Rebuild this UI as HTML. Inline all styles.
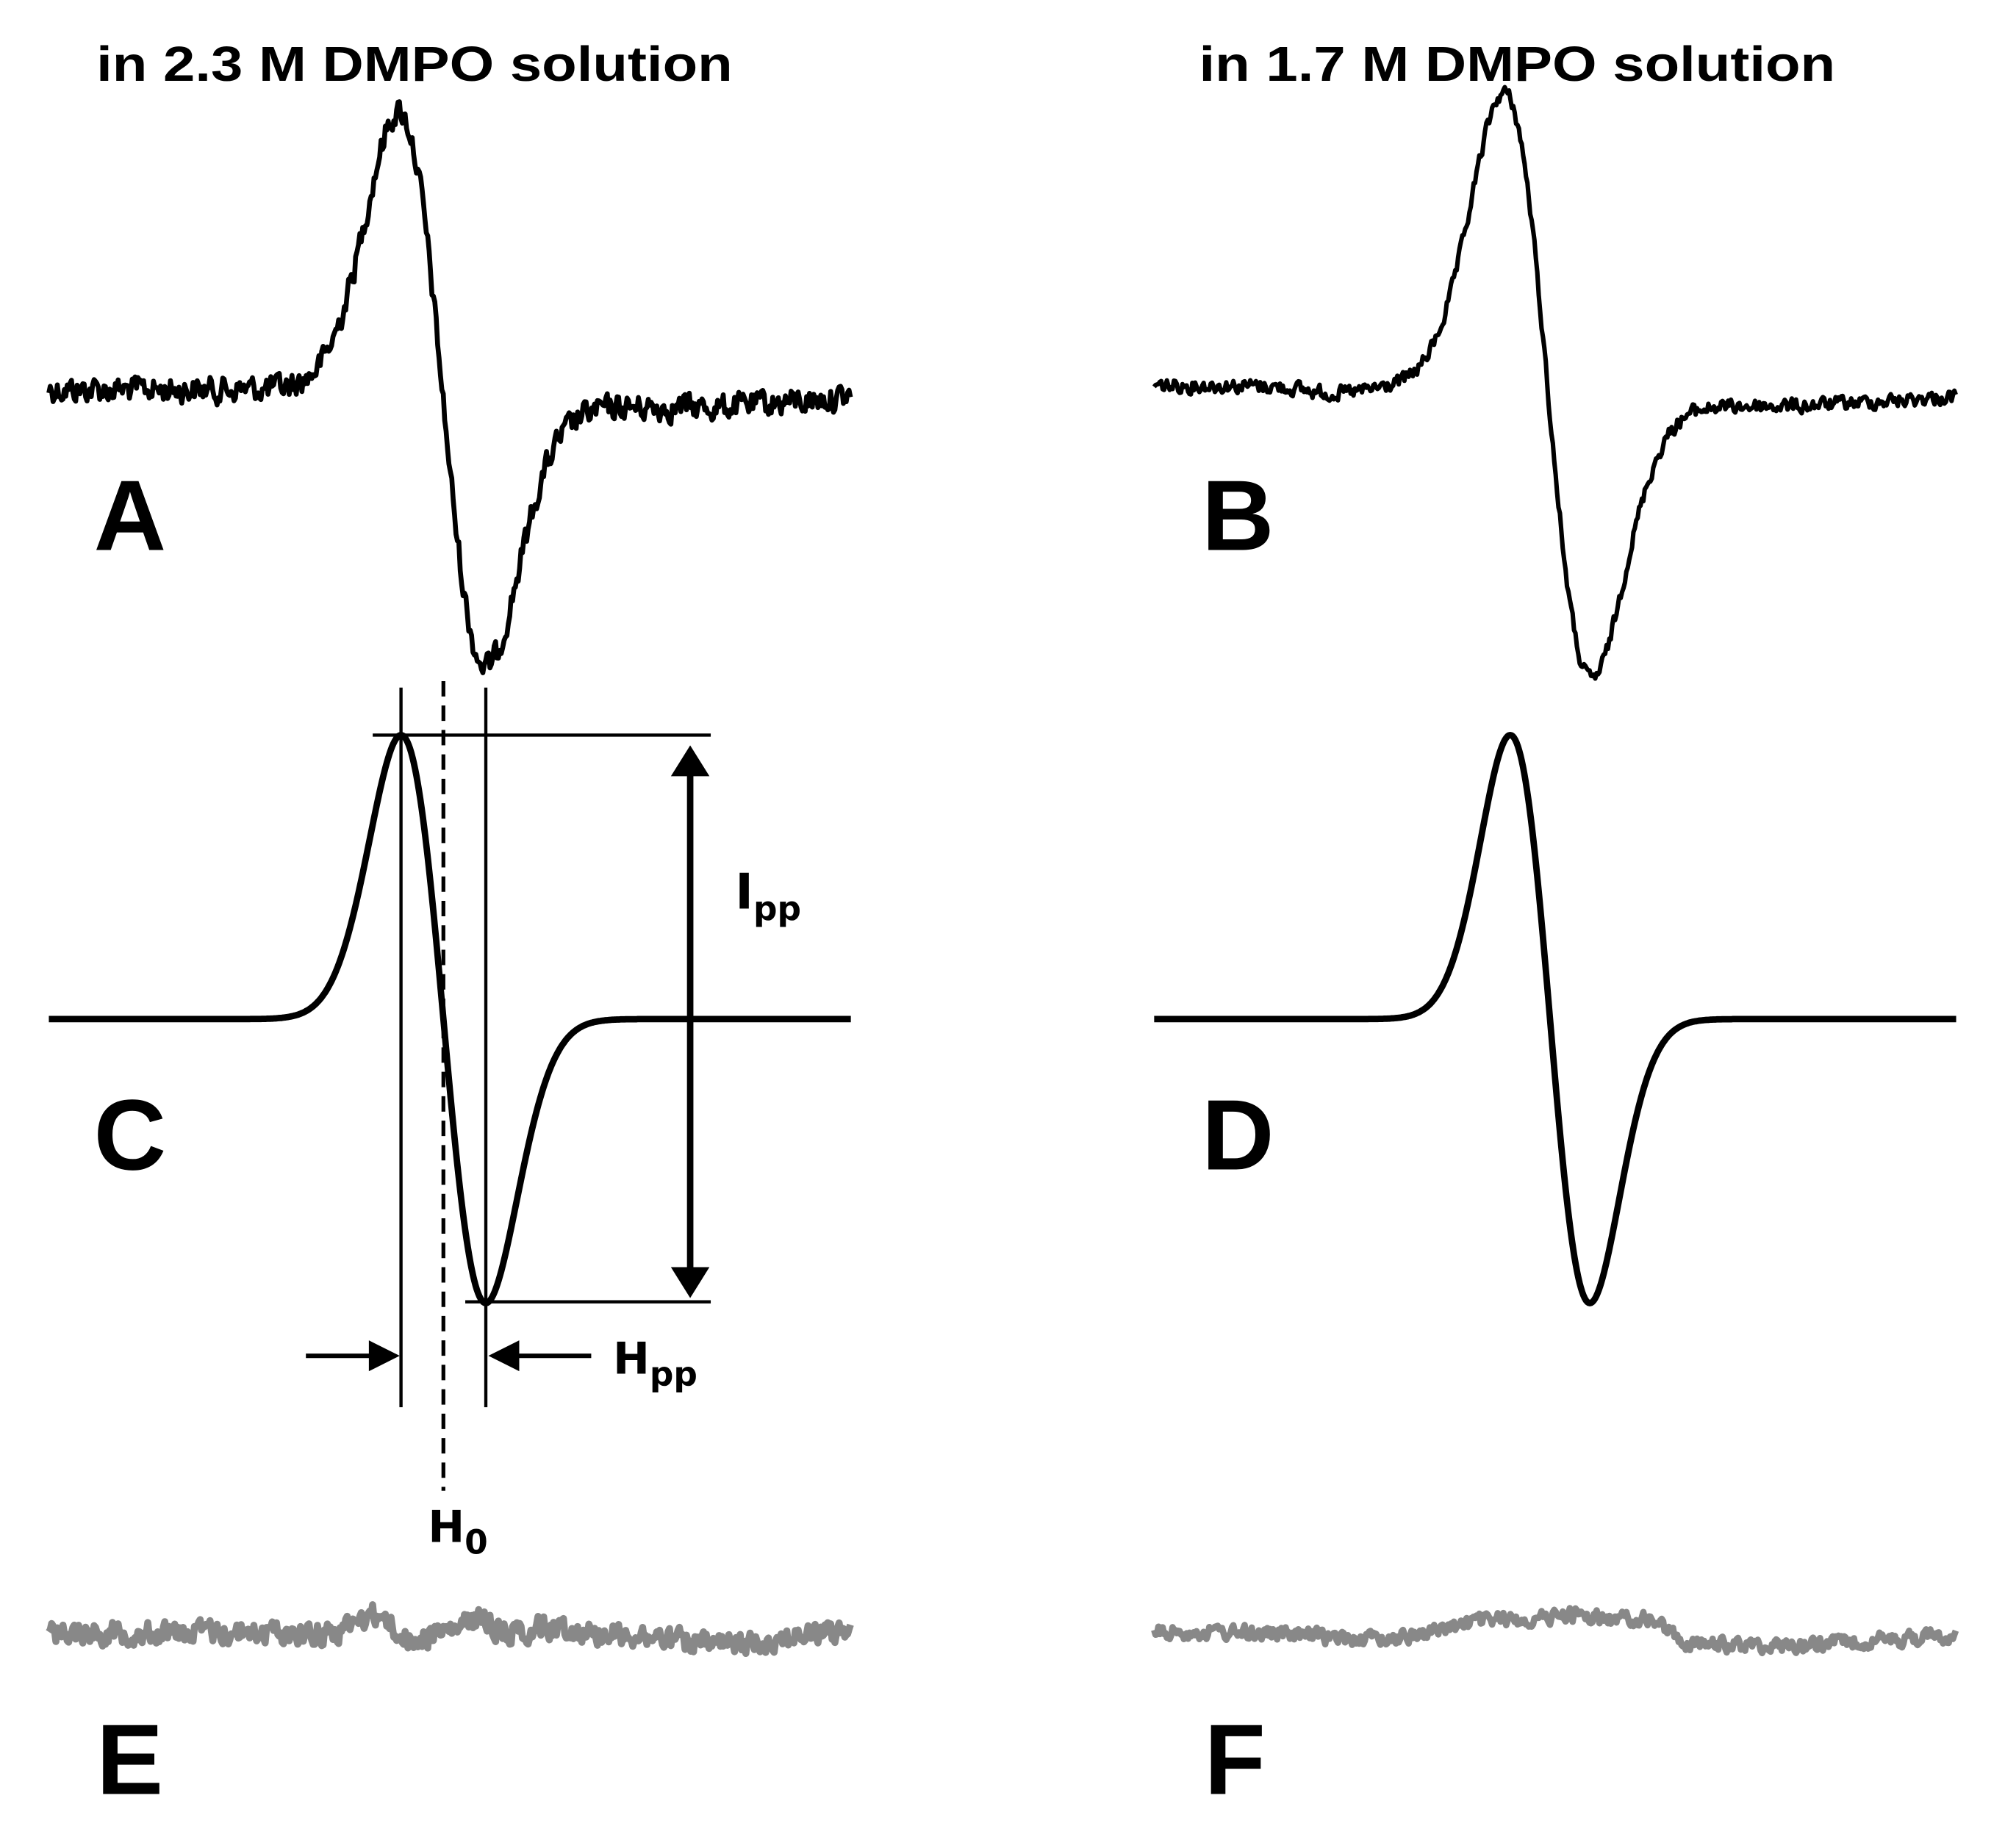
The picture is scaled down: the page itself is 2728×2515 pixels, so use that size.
<!DOCTYPE html>
<html><head><meta charset="utf-8"><style>
html,body{margin:0;padding:0;background:#fff;}
svg{display:block;}
text{font-family:"Liberation Sans",Arial,sans-serif;font-weight:bold;fill:#000;}
</style></head><body>
<svg id="s" width="2728" height="2515" viewBox="0 0 1560 1438" preserveAspectRatio="none" xmlns="http://www.w3.org/2000/svg">
<text x="75" y="63" font-size="38" textLength="495" lengthAdjust="spacingAndGlyphs">in 2.3 M DMPO solution</text>
<text x="933" y="63" font-size="38" textLength="495" lengthAdjust="spacingAndGlyphs">in 1.7 M DMPO solution</text>
<text x="73" y="428" font-size="78">A</text>
<text x="935" y="428" font-size="78">B</text>
<text x="73" y="910" font-size="78">C</text>
<text x="935" y="910" font-size="78">D</text>
<text x="75" y="1396" font-size="78">E</text>
<text x="937" y="1396" font-size="78">F</text>
<g id="curves" fill="none" stroke-linejoin="round"></g>
<g stroke="#000" stroke-width="2.5" fill="none">
<line x1="312" y1="535" x2="312" y2="1095"/>
<line x1="378" y1="535" x2="378" y2="1095"/>
<line x1="345" y1="530" x2="345" y2="1160" stroke-dasharray="12,7" stroke-width="3"/>
<line x1="290" y1="572" x2="553" y2="572"/>
<line x1="362" y1="1013" x2="553" y2="1013"/>
</g>
<line x1="537" y1="600" x2="537" y2="990" stroke="#000" stroke-width="5"/>
<polygon points="537,580 522,604 552,604" fill="#000"/>
<polygon points="537,1010 522,986 552,986" fill="#000"/>
<line x1="238" y1="1055" x2="292" y2="1055" stroke="#000" stroke-width="3.5"/>
<polygon points="311,1055 287,1043 287,1067" fill="#000"/>
<line x1="400" y1="1055" x2="460" y2="1055" stroke="#000" stroke-width="3.5"/>
<polygon points="380,1055 404,1043 404,1067" fill="#000"/>
<text x="572" y="707" font-size="38" style="font-family:'DejaVu Sans',sans-serif">I<tspan font-size="26" dy="9">pp</tspan></text>
<text x="477" y="1069" font-size="34" style="font-family:'DejaVu Sans',sans-serif">H<tspan font-size="26" dy="9">pp</tspan></text>
<text x="333" y="1200" font-size="34" style="font-family:'DejaVu Sans',sans-serif">H<tspan font-size="26" dy="9">0</tspan></text>
</svg>
<script>
(function(){
var seed=12345;function rnd(){seed=(seed*1103515245+12345)%2147483648;return seed/2147483648;}
function dg(x,c,s){var u=(x-c)/s;return u*Math.exp(0.5-u*u/2);}
function make(x0,x1,f,noise,step,color,w){
 var d="",sm=0;
 for(var x=x0;x<=x1;x+=step){
  sm=sm*0.4+(rnd()-0.5)*2;
  var y=f(x)+sm*noise;
  d+=(d?"L":"M")+x.toFixed(1)+" "+y.toFixed(1);
 }
 var p=document.createElementNS("http://www.w3.org/2000/svg","path");
 p.setAttribute("d",d);p.setAttribute("stroke",color);p.setAttribute("stroke-width",w);
 document.getElementById("curves").appendChild(p);
}
function bump(x,c,s,a){return a*Math.exp(-(x-c)*(x-c)/(2*s*s));}
make(38,662,function(x){var b=303+(x>380?Math.min(1,(x-380)/60)*14:0)-(x>560?(x-560)*0.08:0);return b+216*dg(x,344,34);},9,1.1,"#000",3.8);
make(898,1522,function(x){var b=300+(x>1240?Math.min(1,(x-1240)/50)*16:0)-(x>1400?(x-1400)*0.06:0)+bump(x,1040,25,6);return b+228*dg(x,1204,34);},5,1.1,"#000",3.5);
make(38,662,function(x){return 793+221*dg(x,345,33);},0,1,"#000",5);
make(898,1522,function(x){return 793+221*dg(x,1206,31);},0,1,"#000",5);
make(38,662,function(x){return 1270-bump(x,290,12,14)+bump(x,320,8,8)-bump(x,372,10,10)-bump(x,430,15,4)+bump(x,560,40,10);},8,1.1,"#888",5.5);
make(898,1522,function(x){return 1270+bump(x,1060,40,5)-bump(x,1165,30,10)-bump(x,1225,20,12)-bump(x,1275,20,10)+(x>1290?Math.min(1,(x-1290)/20)*10:0)-(x>1400?(x-1400)*0.06:0);},5,1.1,"#888",5);
})();
</script>
</body></html>
